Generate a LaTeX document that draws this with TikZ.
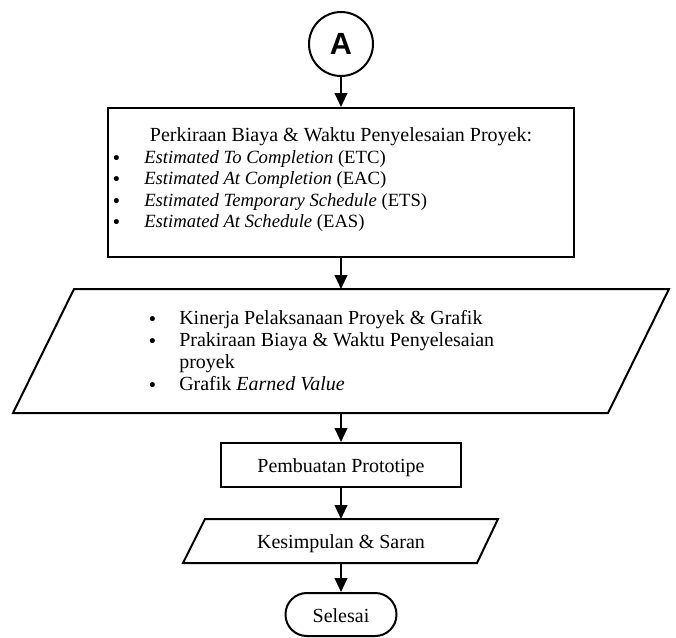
\documentclass[tikz,border=0pt]{standalone}
\usepackage{fontspec}
\setmainfont{Liberation Serif}
\setsansfont{Liberation Sans}
\newfontfamily\bulfont{DejaVu Sans}
\usetikzlibrary{arrows.meta}
\newcommand\mainsz{\fontsize{15}{17}\selectfont}
\newcommand\itemsz{\fontsize{14}{16}\selectfont}
\newcommand\bulsz{\bulfont\fontsize{13}{13}\selectfont}
\newcommand\bulA{\makebox[24.75pt][l]{\bulsz\raisebox{-0.75pt}{•}}}
\newcommand\bulB{\makebox[24pt][l]{\bulsz\raisebox{-0.75pt}{•}}}
\tikzset{
  ln/.style={line width=1.5pt},
  arr/.style={line width=1.5pt, -{Triangle[length=10.5pt,width=9.5pt]}},
  txt/.style={inner sep=0pt, anchor=base west, font=\mainsz},
  itxt/.style={inner sep=0pt, anchor=base west, font=\itemsz},
  ctxt/.style={inner sep=0pt, anchor=base, font=\mainsz},
  ghost/.style={inner sep=0pt, outer sep=0pt, draw=none},
}
\begin{document}
\begin{tikzpicture}[x=0.75pt, y=-0.75pt]
\useasboundingbox (0,0) rectangle (676,637);
% start connector
\node[ln, draw, circle, minimum size=48pt, inner sep=0pt,
      font=\sffamily\bfseries\fontsize{23}{25}\selectfont] (A) at (341,44) {A};
% process box 1
\node[ln, draw, rectangle, minimum width=349.5pt, minimum height=111.75pt, inner sep=0pt] (b1) at (341,182.5) {};
\node[ctxt] (t0) at (341,141) {Perkiraan Biaya \& Waktu Penyelesaian Proyek:};
\node[itxt] (t1) at (111,163) {\bulA\textit{Estimated To Completion} (ETC)};
\node[itxt] (t2) at (111,184.5) {\bulA\textit{Estimated At Completion} (EAC)};
\node[itxt] (t3) at (111,206) {\bulA\textit{Estimated Temporary Schedule} (ETS)};
\node[itxt] (t4) at (111,227.5) {\bulA\textit{Estimated At Schedule} (EAS)};
% output parallelogram 1
\node[ghost, minimum width=492pt, minimum height=93pt] (io1) at (341,351) {};
\draw[ln, line join=miter] (74,289) -- (669,289) -- (608,413) -- (13,413) -- cycle;
\node[txt] (s1) at (147,324) {\bulB Kinerja Pelaksanaan Proyek \& Grafik};
\node[txt] (s2) at (147,346) {\bulB Prakiraan Biaya \& Waktu Penyelesaian};
\node[txt] (s2b) at (179,368) {proyek};
\node[txt] (s3) at (147,390) {\bulB Grafik \textit{Earned Value}};
% process box 2
\node[ln, draw, rectangle, minimum width=180pt, minimum height=33pt, inner sep=0pt] (b2) at (341,465) {};
\node[ctxt] (p2) at (341,472) {Pembuatan Prototipe};
% output parallelogram 2
\node[ghost, minimum width=236.25pt, minimum height=33pt] (io2) at (341,541) {};
\draw[ln, line join=miter] (205,519) -- (498,519) -- (477,563) -- (183,563) -- cycle;
\node[ctxt] (k2) at (341,548) {Kesimpulan \& Saran};
% terminator
\node[ln, draw, rectangle, rounded corners=16pt, minimum width=83.25pt, minimum height=32.25pt, inner sep=0pt] (end) at (341,614.5) {};
\node[ctxt] (e2) at (341,622) {Selesai};
% connectors
\draw[arr] (A.south) -- (b1.north);
\draw[arr] (b1.south) -- (io1.north);
\draw[arr] (io1.south) -- (b2.north);
\draw[arr] (b2.south) -- (io2.north);
\draw[arr] (io2.south) -- (end.north);
\end{tikzpicture}
\end{document}
